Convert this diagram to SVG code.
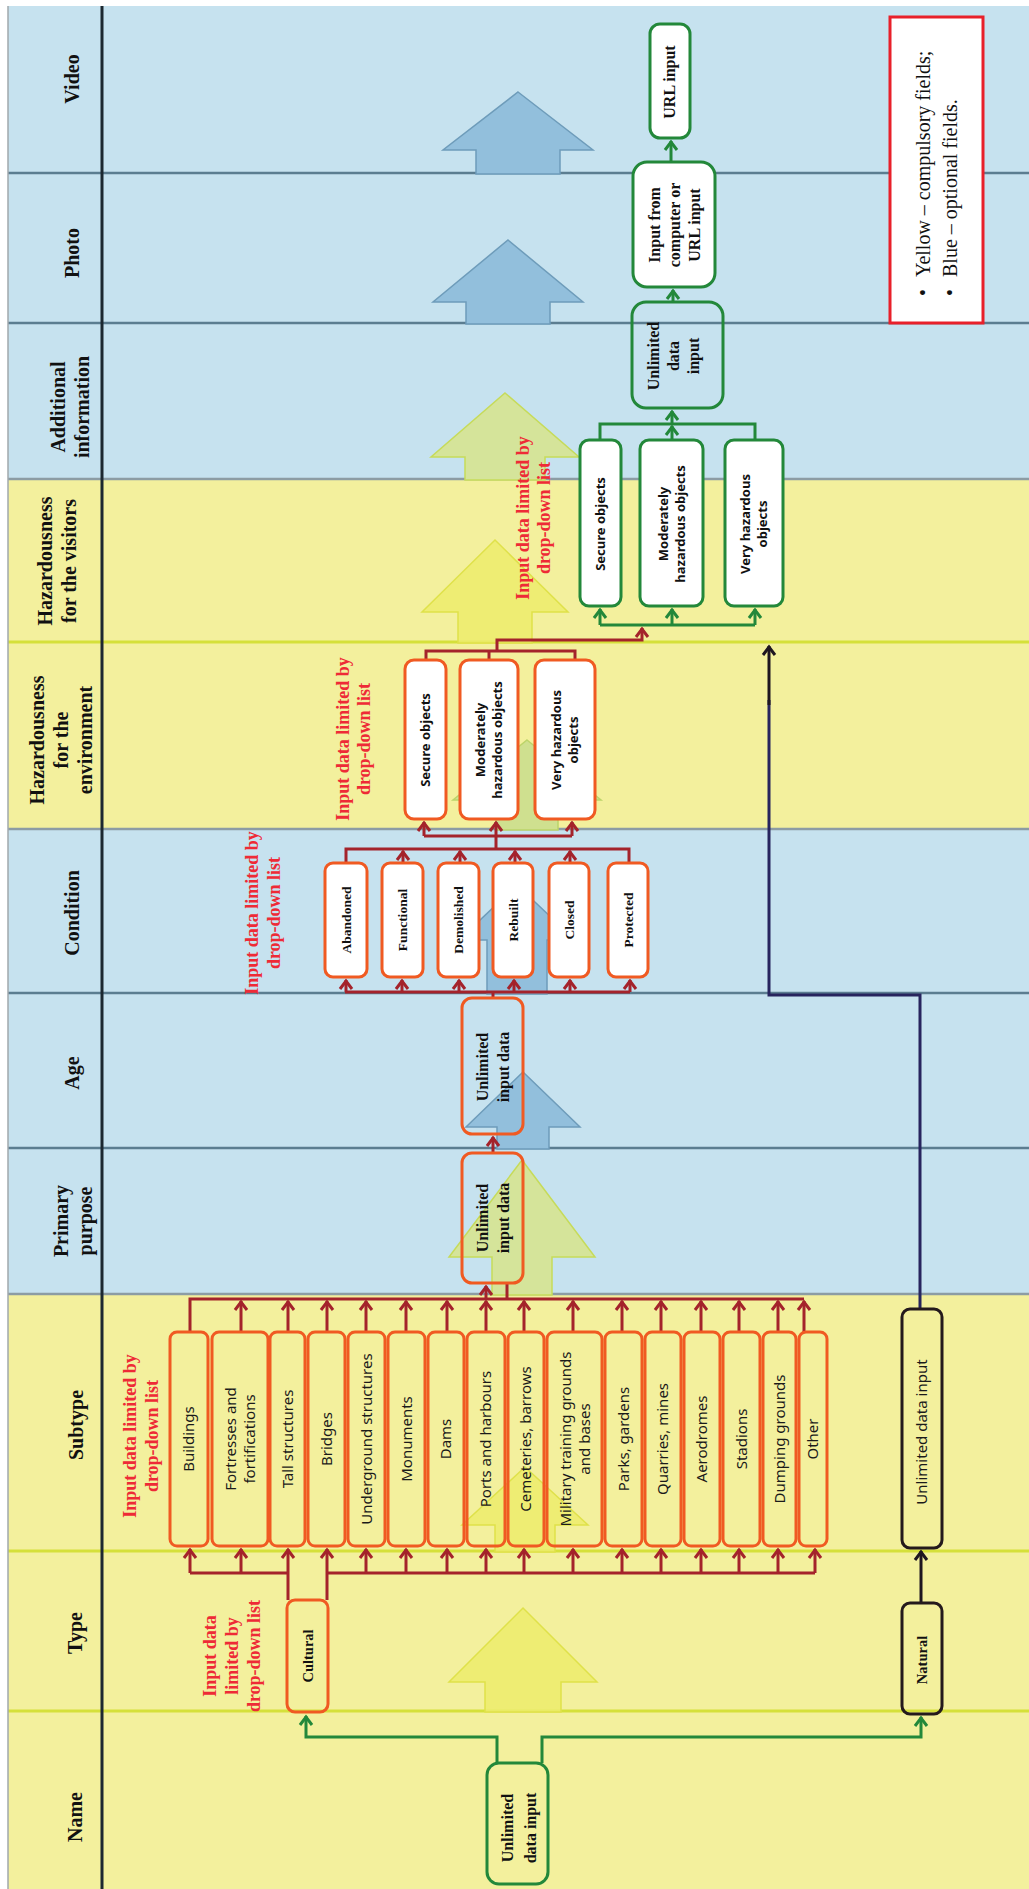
<svg xmlns="http://www.w3.org/2000/svg" width="1029" height="1889" viewBox="0 0 1029 1889">
<style>
.hd{font-family:"Liberation Serif",serif;font-weight:bold;font-size:20px;fill:#111;text-anchor:middle}
.red{font-family:"Liberation Serif",serif;font-weight:bold;font-size:18px;fill:#ee2a36;text-anchor:middle}
.ser{font-family:"Liberation Serif",serif;font-weight:bold;font-size:16px;fill:#111;text-anchor:middle}
.cond{font-family:"Liberation Serif",serif;font-weight:bold;font-size:13.5px;fill:#111;text-anchor:middle}
.sub{font-family:"Noto Sans",sans-serif;font-size:15px;fill:#1a1a1a;text-anchor:middle}
.haz{font-family:"Noto Sans",sans-serif;font-weight:bold;font-size:13px;fill:#111;text-anchor:middle}
.leg{font-family:"Liberation Serif",serif;font-size:20px;fill:#111}
.bO{fill:none;stroke:#f05a22;stroke-width:3}
.bOw{fill:#fff;stroke:#f05a22;stroke-width:3}
.bG{fill:none;stroke:#23883a;stroke-width:3}
.bGw{fill:#fff;stroke:#23883a;stroke-width:3}
.bK{fill:none;stroke:#241a1c;stroke-width:3}
.cR{fill:none;stroke:#a4232b;stroke-width:3}
.cG{fill:none;stroke:#23883a;stroke-width:3}
.cK{fill:none;stroke:#1e1620;stroke-width:3}
.cN{fill:none;stroke:#27245e;stroke-width:3}
.aB{fill:#92bfdc;stroke:#6e9cba;stroke-width:1.5}
.aGY{fill:#d5e49a;stroke:#c6db5a;stroke-width:1.5}
.aY{fill:#ecec6c;stroke:#dfe14a;stroke-width:1.5;fill-opacity:0.85}
.aE{fill:#cfe08f;stroke:#bcd46a;stroke-width:1.5}
.lnB{stroke:#5b7d90;stroke-width:2.5}
.lnY{stroke:#d5e03a;stroke-width:3}
.lnM{stroke:#8c9ca4;stroke-width:2.5}
</style>
<defs>
<marker id="mR" viewBox="-10 -10 20 20" markerWidth="20" markerHeight="20" markerUnits="userSpaceOnUse" orient="auto" refX="1" refY="0"><path d="M-8,-6 L0,0 L-8,6" fill="none" stroke="#a4232b" stroke-width="3"/></marker>
<marker id="mG" viewBox="-10 -10 20 20" markerWidth="20" markerHeight="20" markerUnits="userSpaceOnUse" orient="auto" refX="1" refY="0"><path d="M-8,-6 L0,0 L-8,6" fill="none" stroke="#23883a" stroke-width="3"/></marker>
<marker id="mK" viewBox="-10 -10 20 20" markerWidth="20" markerHeight="20" markerUnits="userSpaceOnUse" orient="auto" refX="1" refY="0"><path d="M-8,-6 L0,0 L-8,6" fill="none" stroke="#1e1620" stroke-width="3"/></marker>
</defs>
<rect width="1029" height="1889" fill="#fff"/>
<g id="background">
<rect x="8" y="6" width="1021" height="473" fill="#c6e2ef"/>
<rect x="8" y="479" width="1021" height="350" fill="#f3f09d"/>
<rect x="8" y="829" width="1021" height="465" fill="#c6e2ef"/>
<rect x="8" y="1294" width="1021" height="595" fill="#f3f09d"/>
<line x1="8" y1="173" x2="1029" y2="173" class="lnB"/>
<line x1="8" y1="323" x2="1029" y2="323" class="lnB"/>
<line x1="8" y1="479" x2="1029" y2="479" class="lnM"/>
<line x1="8" y1="642" x2="1029" y2="642" class="lnY"/>
<line x1="8" y1="829" x2="1029" y2="829" class="lnM"/>
<line x1="8" y1="993" x2="1029" y2="993" class="lnB"/>
<line x1="8" y1="1148" x2="1029" y2="1148" class="lnB"/>
<line x1="8" y1="1294" x2="1029" y2="1294" class="lnM"/>
<line x1="8" y1="1551" x2="1029" y2="1551" class="lnY"/>
<line x1="8" y1="1711" x2="1029" y2="1711" class="lnY"/>
<line x1="102" y1="6" x2="102" y2="1889" stroke="#1c2830" stroke-width="3"/>
<line x1="8" y1="6" x2="8" y2="1889" stroke="#a0a8ac" stroke-width="1.5"/>
</g>
<g id="headers">
<text class="hd" transform="translate(72,79) rotate(-90)"><tspan x="0" y="7">Video</tspan></text>
<text class="hd" transform="translate(72,253) rotate(-90)"><tspan x="0" y="7">Photo</tspan></text>
<text class="hd" transform="translate(70,407) rotate(-90)"><tspan x="0" y="-5">Additional</tspan><tspan x="0" y="19">information</tspan></text>
<text class="hd" transform="translate(57,561) rotate(-90)"><tspan x="0" y="-5">Hazardousness</tspan><tspan x="0" y="19">for the visitors</tspan></text>
<text class="hd" transform="translate(61,740) rotate(-90)"><tspan x="0" y="-17">Hazardousness</tspan><tspan x="0" y="7">for the</tspan><tspan x="0" y="31">environment</tspan></text>
<text class="hd" transform="translate(72,913) rotate(-90)"><tspan x="0" y="7">Condition</tspan></text>
<text class="hd" transform="translate(72,1073) rotate(-90)"><tspan x="0" y="7">Age</tspan></text>
<text class="hd" transform="translate(73,1221) rotate(-90)"><tspan x="0" y="-5">Primary</tspan><tspan x="0" y="19">purpose</tspan></text>
<text class="hd" transform="translate(76,1425) rotate(-90)"><tspan x="0" y="7">Subtype</tspan></text>
<text class="hd" transform="translate(75,1633) rotate(-90)"><tspan x="0" y="7">Type</tspan></text>
<text class="hd" transform="translate(75,1817) rotate(-90)"><tspan x="0" y="7">Name</tspan></text>
</g>
<g id="flow-arrows">
<polygon class="aB" points="518,92 593,150 560,150 560,174 476,174 476,150 443,150"/>
<polygon class="aB" points="508,240 583,302 550,302 550,324 466,324 466,302 433,302"/>
<polygon class="aGY" points="505,393 579,457 545,457 545,480 465,480 465,457 431,457"/>
<polygon class="aY" points="495,540 568,612 532,612 532,643 458,643 458,612 422,612"/>
<polygon class="aE" points="527,740 601,800 558,800 558,830 496,830 496,800 453,800"/>
<polygon class="aB" points="517,885 575,940 547,940 547,994 487,994 487,940 459,940"/>
<polygon class="aB" points="523,1072 580,1127 549,1127 549,1149 497,1149 497,1127 466,1127"/>
<polygon class="aGY" points="522,1160 595,1257 552,1257 552,1295 492,1295 492,1257 449,1257"/>
<polygon class="aY" points="525,1467 588,1525 555,1525 555,1552 495,1552 495,1525 462,1525"/>
<polygon class="aY" points="523,1608 597,1682 561,1682 561,1712 485,1712 485,1682 449,1682"/>
</g>
<g id="connectors">
<path class="cG" d="M497,1763 V1737 H306 V1716" marker-end="url(#mG)"/>
<path class="cG" d="M542,1763 V1737 H921 V1717" marker-end="url(#mG)"/>
<path class="cK" d="M921,1603 V1551" marker-end="url(#mK)"/>
<path class="cN" d="M920,1309 V995 H769 V700"/>
<path class="cK" d="M769,705 V646" marker-end="url(#mK)"/>
<path class="cR" d="M190,1573 H288"/>
<path class="cR" d="M327,1573 H815"/>
<path class="cR" d="M288,1600 V1549" marker-end="url(#mR)"/>
<path class="cR" d="M327,1600 V1549" marker-end="url(#mR)"/>
<path class="cR" d="M190,1573 V1549" marker-end="url(#mR)"/>
<path class="cR" d="M241,1573 V1549" marker-end="url(#mR)"/>
<path class="cR" d="M366,1573 V1549" marker-end="url(#mR)"/>
<path class="cR" d="M406,1573 V1549" marker-end="url(#mR)"/>
<path class="cR" d="M447,1573 V1549" marker-end="url(#mR)"/>
<path class="cR" d="M486,1573 V1549" marker-end="url(#mR)"/>
<path class="cR" d="M524,1573 V1549" marker-end="url(#mR)"/>
<path class="cR" d="M573,1573 V1549" marker-end="url(#mR)"/>
<path class="cR" d="M622,1573 V1549" marker-end="url(#mR)"/>
<path class="cR" d="M661,1573 V1549" marker-end="url(#mR)"/>
<path class="cR" d="M701,1573 V1549" marker-end="url(#mR)"/>
<path class="cR" d="M739,1573 V1549" marker-end="url(#mR)"/>
<path class="cR" d="M778,1573 V1549" marker-end="url(#mR)"/>
<path class="cR" d="M815,1573 V1549" marker-end="url(#mR)"/>
<path class="cR" d="M190,1332 V1299 H804"/>
<path class="cR" d="M241,1332 V1301" marker-end="url(#mR)"/>
<path class="cR" d="M288,1332 V1301" marker-end="url(#mR)"/>
<path class="cR" d="M327,1332 V1301" marker-end="url(#mR)"/>
<path class="cR" d="M366,1332 V1301" marker-end="url(#mR)"/>
<path class="cR" d="M406,1332 V1301" marker-end="url(#mR)"/>
<path class="cR" d="M447,1332 V1301" marker-end="url(#mR)"/>
<path class="cR" d="M486,1332 V1301" marker-end="url(#mR)"/>
<path class="cR" d="M524,1332 V1301" marker-end="url(#mR)"/>
<path class="cR" d="M573,1332 V1301" marker-end="url(#mR)"/>
<path class="cR" d="M622,1332 V1301" marker-end="url(#mR)"/>
<path class="cR" d="M661,1332 V1301" marker-end="url(#mR)"/>
<path class="cR" d="M701,1332 V1301" marker-end="url(#mR)"/>
<path class="cR" d="M739,1332 V1301" marker-end="url(#mR)"/>
<path class="cR" d="M778,1332 V1301" marker-end="url(#mR)"/>
<path class="cR" d="M804,1332 V1301" marker-end="url(#mR)"/>
<path class="cR" d="M486,1299 V1286" marker-end="url(#mR)"/>
<path class="cR" d="M507,1299 V1284"/>
<path class="cR" d="M493,1153 V1137" marker-end="url(#mR)"/>
<path class="cR" d="M493,998 V992"/>
<path class="cR" d="M345,992 H630"/>
<path class="cR" d="M346,992 V980" marker-end="url(#mR)"/>
<path class="cR" d="M402,992 V980" marker-end="url(#mR)"/>
<path class="cR" d="M459,992 V980" marker-end="url(#mR)"/>
<path class="cR" d="M514,992 V980" marker-end="url(#mR)"/>
<path class="cR" d="M570,992 V980" marker-end="url(#mR)"/>
<path class="cR" d="M630,992 V980" marker-end="url(#mR)"/>
<path class="cR" d="M346,863 V849 H629 V863"/>
<path class="cR" d="M403,863 V851" marker-end="url(#mR)"/>
<path class="cR" d="M460,863 V851" marker-end="url(#mR)"/>
<path class="cR" d="M515,863 V851" marker-end="url(#mR)"/>
<path class="cR" d="M570,863 V851" marker-end="url(#mR)"/>
<path class="cR" d="M496,849 V836"/>
<path class="cR" d="M424,836 H572"/>
<path class="cR" d="M424,836 V822" marker-end="url(#mR)"/>
<path class="cR" d="M496,836 V822" marker-end="url(#mR)"/>
<path class="cR" d="M572,836 V822" marker-end="url(#mR)"/>
<path class="cR" d="M426,660 V651 H575 V660"/>
<path class="cR" d="M489,660 V651"/>
<path class="cR" d="M497,651 V640 H642 V628" marker-end="url(#mR)"/>
<path class="cG" d="M600,625 H755"/>
<path class="cG" d="M600,625 V609" marker-end="url(#mG)"/>
<path class="cG" d="M672,625 V609" marker-end="url(#mG)"/>
<path class="cG" d="M755,625 V609" marker-end="url(#mG)"/>
<path class="cG" d="M600,440 V424 H755 V440"/>
<path class="cG" d="M672,440 V426" marker-end="url(#mG)"/>
<path class="cG" d="M672,424 V411" marker-end="url(#mG)"/>
<path class="cG" d="M673,302 V290" marker-end="url(#mG)"/>
<path class="cG" d="M671,162 V141" marker-end="url(#mG)"/>
</g>
<g id="labels">
<text class="red" transform="translate(232,1656) rotate(-90)"><tspan x="0" y="-15.7">Input data</tspan><tspan x="0" y="6.3">limited by</tspan><tspan x="0" y="28.3">drop-down list</tspan></text>
<text class="red" transform="translate(141,1436) rotate(-90)"><tspan x="0" y="-4.7">Input data limited by</tspan><tspan x="0" y="17.3">drop-down list</tspan></text>
<text class="red" transform="translate(263,913) rotate(-90)"><tspan x="0" y="-4.7">Input data limited by</tspan><tspan x="0" y="17.3">drop-down list</tspan></text>
<text class="red" transform="translate(353,739) rotate(-90)"><tspan x="0" y="-4.2">Input data limited by</tspan><tspan x="0" y="16.8">drop-down list</tspan></text>
<text class="red" transform="translate(533,518) rotate(-90)"><tspan x="0" y="-4.2">Input data limited by</tspan><tspan x="0" y="16.8">drop-down list</tspan></text>
</g>
<g id="name-input">
<rect class="bG" x="487" y="1763" width="61" height="121" rx="12"/>
<text class="ser" transform="translate(518.5,1828) rotate(-90)"><tspan x="0" y="-6">Unlimited</tspan><tspan x="0" y="17">data input</tspan></text>
</g>
<g id="type-cultural">
<rect class="bO" x="287" y="1600" width="41" height="112" rx="8"/>
<text class="ser" style="font-size:14.5px" transform="translate(307.5,1656) rotate(-90)"><tspan x="0" y="5">Cultural</tspan></text>
</g>
<g id="type-natural">
<rect class="bK" x="902" y="1603" width="40" height="111" rx="8"/>
<text class="ser" style="font-size:14.5px" transform="translate(922,1660) rotate(-90)"><tspan x="0" y="5">Natural</tspan></text>
</g>
<g id="subtype-natural">
<rect class="bK" x="902" y="1309" width="40" height="239" rx="8"/>
<text class="sub" transform="translate(922,1432) rotate(-90)"><tspan x="0" y="5">Unlimited data input</tspan></text>
</g>
<g id="subtype-buildings"><rect class="bO" x="170" y="1332" width="38" height="214" rx="7"/><text class="sub" transform="translate(189,1439) rotate(-90)"><tspan x="0" y="5">Buildings</tspan></text></g>
<g id="subtype-fortresses"><rect class="bO" x="212" y="1332" width="56" height="214" rx="7"/><text class="sub" transform="translate(240,1439) rotate(-90)"><tspan x="0" y="-4">Fortresses and</tspan><tspan x="0" y="15">fortifications</tspan></text></g>
<g id="subtype-tall"><rect class="bO" x="270" y="1332" width="35" height="214" rx="7"/><text class="sub" transform="translate(287.5,1439) rotate(-90)"><tspan x="0" y="5">Tall structures</tspan></text></g>
<g id="subtype-bridges"><rect class="bO" x="308" y="1332" width="37" height="214" rx="7"/><text class="sub" transform="translate(326.5,1439) rotate(-90)"><tspan x="0" y="5">Bridges</tspan></text></g>
<g id="subtype-underground"><rect class="bO" x="348" y="1332" width="37" height="214" rx="7"/><text class="sub" transform="translate(366.5,1439) rotate(-90)"><tspan x="0" y="5">Underground structures</tspan></text></g>
<g id="subtype-monuments"><rect class="bO" x="388" y="1332" width="37" height="214" rx="7"/><text class="sub" transform="translate(406.5,1439) rotate(-90)"><tspan x="0" y="5">Monuments</tspan></text></g>
<g id="subtype-dams"><rect class="bO" x="428" y="1332" width="36" height="214" rx="7"/><text class="sub" transform="translate(446,1439) rotate(-90)"><tspan x="0" y="5">Dams</tspan></text></g>
<g id="subtype-ports"><rect class="bO" x="467" y="1332" width="38" height="214" rx="7"/><text class="sub" transform="translate(486,1439) rotate(-90)"><tspan x="0" y="5">Ports and harbours</tspan></text></g>
<g id="subtype-cemeteries"><rect class="bO" x="508" y="1332" width="36" height="214" rx="7"/><text class="sub" transform="translate(526,1439) rotate(-90)"><tspan x="0" y="5">Cemeteries, barrows</tspan></text></g>
<g id="subtype-military"><rect class="bO" x="547" y="1332" width="55" height="214" rx="7"/><text class="sub" transform="translate(574.5,1439) rotate(-90)"><tspan x="0" y="-4">Military training grounds</tspan><tspan x="0" y="15">and bases</tspan></text></g>
<g id="subtype-parks"><rect class="bO" x="605" y="1332" width="37" height="214" rx="7"/><text class="sub" transform="translate(623.5,1439) rotate(-90)"><tspan x="0" y="5">Parks, gardens</tspan></text></g>
<g id="subtype-quarries"><rect class="bO" x="645" y="1332" width="36" height="214" rx="7"/><text class="sub" transform="translate(663,1439) rotate(-90)"><tspan x="0" y="5">Quarries, mines</tspan></text></g>
<g id="subtype-aerodromes"><rect class="bO" x="684" y="1332" width="36" height="214" rx="7"/><text class="sub" transform="translate(702,1439) rotate(-90)"><tspan x="0" y="5">Aerodromes</tspan></text></g>
<g id="subtype-stadions"><rect class="bO" x="723" y="1332" width="37" height="214" rx="7"/><text class="sub" transform="translate(741.5,1439) rotate(-90)"><tspan x="0" y="5">Stadions</tspan></text></g>
<g id="subtype-dumping"><rect class="bO" x="763" y="1332" width="33" height="214" rx="7"/><text class="sub" transform="translate(779.5,1439) rotate(-90)"><tspan x="0" y="5">Dumping grounds</tspan></text></g>
<g id="subtype-other"><rect class="bO" x="799" y="1332" width="28" height="214" rx="7"/><text class="sub" transform="translate(813,1439) rotate(-90)"><tspan x="0" y="5">Other</tspan></text></g>
<g id="primary-purpose">
<rect class="bO" x="462" y="1153" width="61" height="130" rx="10"/>
<text class="ser" transform="translate(492.5,1218) rotate(-90)"><tspan x="0" y="-5">Unlimited</tspan><tspan x="0" y="16">input data</tspan></text>
</g>
<g id="age">
<rect class="bO" x="462" y="998" width="61" height="136" rx="10"/>
<text class="ser" transform="translate(492.5,1067) rotate(-90)"><tspan x="0" y="-5">Unlimited</tspan><tspan x="0" y="16">input data</tspan></text>
</g>
<g id="cond-abandoned"><rect class="bOw" x="325" y="863" width="42" height="114" rx="8"/><text class="cond" transform="translate(346,920) rotate(-90)"><tspan x="0" y="4.5">Abandoned</tspan></text></g>
<g id="cond-functional"><rect class="bOw" x="382" y="863" width="41" height="114" rx="8"/><text class="cond" transform="translate(402.5,920) rotate(-90)"><tspan x="0" y="4.5">Functional</tspan></text></g>
<g id="cond-demolished"><rect class="bOw" x="438" y="863" width="41" height="114" rx="8"/><text class="cond" transform="translate(458.5,920) rotate(-90)"><tspan x="0" y="4.5">Demolished</tspan></text></g>
<g id="cond-rebuilt"><rect class="bOw" x="493" y="863" width="40" height="114" rx="8"/><text class="cond" transform="translate(513,920) rotate(-90)"><tspan x="0" y="4.5">Rebuilt</tspan></text></g>
<g id="cond-closed"><rect class="bOw" x="549" y="863" width="40" height="114" rx="8"/><text class="cond" transform="translate(569,920) rotate(-90)"><tspan x="0" y="4.5">Closed</tspan></text></g>
<g id="cond-protected"><rect class="bOw" x="608" y="863" width="40" height="114" rx="8"/><text class="cond" transform="translate(628,920) rotate(-90)"><tspan x="0" y="4.5">Protected</tspan></text></g>
<g id="env-secure"><rect class="bOw" x="405" y="660" width="41" height="159" rx="9"/><text class="haz" transform="translate(425.5,740) rotate(-90)"><tspan x="0" y="4.5">Secure objects</tspan></text></g>
<g id="env-moderate"><rect class="bOw" x="460" y="660" width="58" height="159" rx="9"/><text class="haz" transform="translate(489,740) rotate(-90)"><tspan x="0" y="-4">Moderately</tspan><tspan x="0" y="13">hazardous objects</tspan></text></g>
<g id="env-very"><rect class="bOw" x="535" y="660" width="60" height="159" rx="9"/><text class="haz" transform="translate(565,740) rotate(-90)"><tspan x="0" y="-4">Very hazardous</tspan><tspan x="0" y="13">objects</tspan></text></g>
<g id="vis-secure"><rect class="bGw" x="580" y="440" width="41" height="166" rx="9"/><text class="haz" transform="translate(600.5,524) rotate(-90)"><tspan x="0" y="4.5">Secure objects</tspan></text></g>
<g id="vis-moderate"><rect class="bGw" x="640" y="440" width="63" height="166" rx="9"/><text class="haz" transform="translate(671.5,524) rotate(-90)"><tspan x="0" y="-4">Moderately</tspan><tspan x="0" y="13">hazardous objects</tspan></text></g>
<g id="vis-very"><rect class="bGw" x="725" y="440" width="58" height="166" rx="9"/><text class="haz" transform="translate(754,524) rotate(-90)"><tspan x="0" y="-4">Very hazardous</tspan><tspan x="0" y="13">objects</tspan></text></g>
<g id="additional-info">
<rect class="bG" x="632" y="302" width="91" height="106" rx="14"/>
<text class="ser" transform="translate(674,356) rotate(-90)"><tspan x="0" y="-15">Unlimited</tspan><tspan x="0" y="5">data</tspan><tspan x="0" y="25">input</tspan></text>
</g>
<g id="photo">
<rect class="bGw" x="633" y="162" width="82" height="125" rx="14"/>
<text class="ser" transform="translate(675,225) rotate(-90)"><tspan x="0" y="-15">Input from</tspan><tspan x="0" y="5">computer or</tspan><tspan x="0" y="25">URL input</tspan></text>
</g>
<g id="video">
<rect class="bGw" x="650" y="24" width="40" height="114" rx="10"/>
<text class="ser" transform="translate(670,82) rotate(-90)"><tspan x="0" y="5">URL input</tspan></text>
</g>
<g id="legend">
<rect x="890" y="17" width="93" height="306" fill="#fff" stroke="#e8202a" stroke-width="3"/>
<text class="leg" transform="translate(936,296) rotate(-90)"><tspan x="0" y="-6.5">•</tspan><tspan x="0" y="20.5">•</tspan></text>
<text class="leg" transform="translate(936,277) rotate(-90)"><tspan x="0" y="-6.5">Yellow – compulsory fields;</tspan><tspan x="0" y="20.5">Blue – optional fields.</tspan></text>
</g>
</svg>
